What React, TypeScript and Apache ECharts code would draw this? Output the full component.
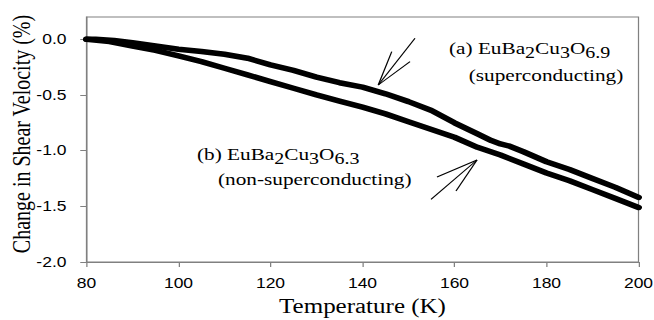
import React, { useEffect, useRef } from "react";
import * as echarts from "echarts";

// Temperature (K) and change in shear velocity (%)
const tempA = [80, 82, 86, 90, 95, 100, 105, 110, 115, 120, 125, 130, 135, 140, 145, 150, 155, 160, 165, 168, 170, 172, 175, 180, 185, 190, 195, 200];
const velA = [0.0, 0.0, -0.01, -0.03, -0.06, -0.09, -0.11, -0.135, -0.17, -0.23, -0.28, -0.34, -0.39, -0.43, -0.49, -0.56, -0.64, -0.75, -0.85, -0.91, -0.94, -0.96, -1.01, -1.1, -1.17, -1.25, -1.33, -1.42];

const tempB = [80, 85, 90, 95, 100, 105, 110, 115, 120, 125, 130, 135, 140, 145, 150, 155, 160, 165, 170, 175, 180, 185, 190, 195, 200];
const velB = [0.0, -0.02, -0.06, -0.1, -0.15, -0.2, -0.26, -0.32, -0.38, -0.44, -0.5, -0.555, -0.61, -0.67, -0.74, -0.81, -0.88, -0.97, -1.04, -1.12, -1.2, -1.27, -1.35, -1.43, -1.51];

const yTicks = [-2.0, -1.5, -1.0, -0.5, 0.0];
const xTicks = [80, 100, 120, 140, 160, 180, 200];

const yTitle = "Change in Shear Velocity (%)";
const xTitle = "Temperature (K)";
const labelA1 = "(a) EuBa{s|2}Cu{s|3}O{s|6.9}";
const labelA2 = "(superconducting)";
const labelB1 = "(b) EuBa{s|2}Cu{s|3}O{s|6.3}";
const labelB2 = "(non-superconducting)";

const SX = 1.25; // the reference picture is stretched horizontally
const W = 654 / SX;
const H = 320;

export default function App() {
  const ref = useRef<HTMLDivElement>(null);

  useEffect(() => {
    if (!ref.current) return;
    const chart = echarts.init(ref.current, undefined, { renderer: "svg" });
    const gray = "#808080";
    const serif = "Liberation Serif";
    const sans = "Liberation Sans";
    const rich = { s: { fontSize: 16, fontFamily: serif, color: "#000", padding: [10, 0, 0, 0] } };
    const line = (x1: number, y1: number, x2: number, y2: number) => ({
      type: "line",
      shape: { x1, y1, x2, y2 },
      style: { stroke: "#000", lineWidth: 1 },
      silent: true,
    });

    chart.setOption({
      animation: false,
      backgroundColor: "#fff",
      grid: {
        left: 69.2,
        top: 17,
        width: 441.6,
        height: 245,
        containLabel: false,
        outerBoundsMode: "none",
        show: true,
        borderColor: gray,
        borderWidth: 1,
        backgroundColor: "transparent",
      },
      xAxis: {
        type: "value",
        min: 80,
        max: 200,
        interval: 20,
        name: xTitle,
        nameLocation: "middle",
        nameGap: 34,
        nameTextStyle: { fontFamily: serif, fontSize: 20, color: "#000" },
        axisLine: { show: true, onZero: false, lineStyle: { color: gray, width: 1 } },
        axisTick: { show: true, inside: false, length: 5, lineStyle: { color: gray }, customValues: xTicks },
        axisLabel: { margin: 14, fontFamily: sans, fontSize: 14, color: "#000", customValues: xTicks },
        splitLine: { show: false },
      },
      yAxis: {
        type: "value",
        min: -2,
        max: 0.2,
        interval: 0.5,
        axisLine: { show: true, onZero: false, lineStyle: { color: gray, width: 1 } },
        axisTick: { show: true, inside: false, length: 5, lineStyle: { color: gray }, customValues: yTicks },
        axisLabel: {
          margin: 16,
          fontFamily: sans,
          fontSize: 14,
          color: "#000",
          customValues: yTicks,
          formatter: (v: number) => v.toFixed(1),
        },
        splitLine: { show: false },
      },
      series: [
        {
          name: "(a)",
          type: "line",
          data: tempA.map((t, i) => [t, velA[i]]),
          showSymbol: false,
          lineStyle: { color: "#000", width: 5.5, cap: "round", join: "round" },
          silent: true,
        },
        {
          name: "(b)",
          type: "line",
          data: tempB.map((t, i) => [t, velB[i]]),
          showSymbol: false,
          lineStyle: { color: "#000", width: 5.5, cap: "round", join: "round" },
          silent: true,
        },
      ],
      graphic: [
        {
          type: "text",
          x: 17.6,
          y: 134,
          rotation: Math.PI / 2,
          style: { text: yTitle, fill: "#000", fontSize: 20, fontFamily: serif, align: "center", verticalAlign: "middle" },
        },
        {
          type: "text",
          x: 359.2,
          y: 48,
          style: { text: labelA1, fill: "#000", fontSize: 17, fontFamily: serif, align: "left", verticalAlign: "middle", rich },
        },
        {
          type: "text",
          x: 375,
          y: 75,
          style: { text: labelA2, fill: "#000", fontSize: 17, fontFamily: serif, align: "left", verticalAlign: "middle" },
        },
        {
          type: "text",
          x: 157.6,
          y: 154,
          style: { text: labelB1, fill: "#000", fontSize: 17, fontFamily: serif, align: "left", verticalAlign: "middle", rich },
        },
        {
          type: "text",
          x: 174.4,
          y: 179,
          style: { text: labelB2, fill: "#000", fontSize: 17, fontFamily: serif, align: "left", verticalAlign: "middle" },
        },
        line(302.6, 85, 332, 38.3),
        line(302.6, 85, 313.4, 51.7),
        line(302.6, 85, 328, 61.7),
        line(381.6, 160, 344.8, 199.3),
        line(381.6, 160, 349.6, 177),
        line(381.6, 160, 364.8, 191),
      ],
    });
    return () => chart.dispose();
  }, []);

  return (
    <div
      ref={ref}
      style={{
        position: "absolute",
        left: 0,
        top: 0,
        width: W,
        height: H,
        transform: `scaleX(${SX})`,
        transformOrigin: "0 0",
      }}
    />
  );
}
